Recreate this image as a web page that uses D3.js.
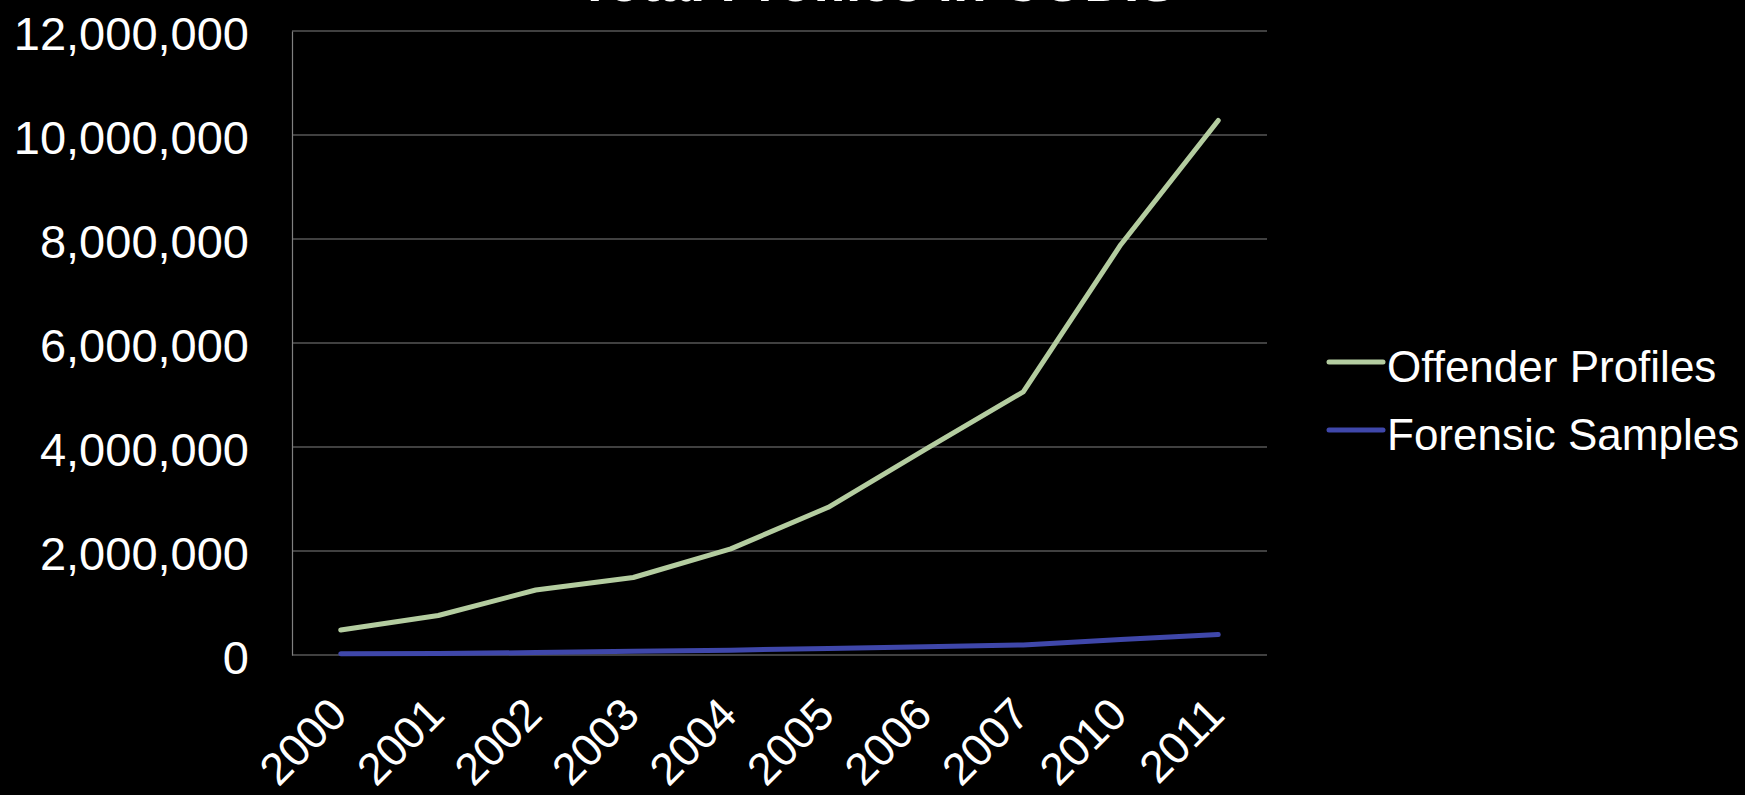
<!DOCTYPE html>
<html lang="en">
<head>
    <meta charset="UTF-8" />
    <title>Total Profiles in CODIS</title>
    <script src="https://d3js.org/d3.v7.min.js"></script>
    <style>
        html, body { margin: 0; padding: 0; background: #000; }
        svg { display: block; font-family: "Liberation Sans", Arial, Helvetica, sans-serif; }
    </style>
</head>
<body>
    <div id="chart"></div>

    <script>
        var w = 1745;
        var h = 795;

        // values
        var years = ["2000", "2001", "2002", "2003", "2004", "2005", "2006", "2007", "2010", "2011"];
        var offenderProfiles = [480000, 760000, 1250000, 1490000, 2040000, 2840000, 3960000, 5060000, 7890000, 10280000];
        var forensicSamples = [22000, 27000, 46000, 70000, 93000, 126000, 160000, 194000, 300000, 392000];
        var yTicks = [0, 2000000, 4000000, 6000000, 8000000, 10000000, 12000000];
        var seriesNames = ["Offender Profiles", "Forensic Samples"];
        var seriesColors = ["#b4cda0", "#3f47aa"];

        var plot = { left: 292, right: 1267, top: 31, bottom: 655 };

        var svg = d3.select("#chart")
            .append("svg")
            .attr("width", w)
            .attr("height", h);

        svg.append("rect")
            .attr("width", w)
            .attr("height", h)
            .attr("fill", "#000");

        // title, almost entirely cut off by the top edge
        svg.append("text")
            .attr("x", 877)
            .attr("y", 1)
            .attr("text-anchor", "middle")
            .attr("fill", "#fff")
            .style("font-size", "55px")
            .style("font-weight", "bold")
            .text("Total Profiles in CODIS");

        var xScale = d3.scalePoint()
            .domain(years)
            .range([plot.left, plot.right])
            .padding(0.5);

        var yScale = d3.scaleLinear()
            .domain([0, 12000000])
            .range([plot.bottom, plot.top]);

        // grid lines
        svg.append("g")
            .selectAll("line")
            .data(yTicks)
            .enter()
            .append("line")
            .attr("x1", plot.left)
            .attr("x2", plot.right)
            .attr("y1", function (d) { return yScale(d); })
            .attr("y2", function (d) { return yScale(d); })
            .attr("stroke", "#808080")
            .attr("stroke-width", 1.2);

        // y axis
        var yAxis = d3.axisLeft(yScale)
            .tickValues(yTicks)
            .tickFormat(d3.format(","))
            .tickSize(0)
            .tickPadding(43);

        var gy = svg.append("g")
            .attr("transform", "translate(" + plot.left + ",0)")
            .call(yAxis);
        gy.select(".domain").attr("stroke", "#808080").attr("stroke-width", 1.2);
        gy.selectAll("text")
            .attr("fill", "#fff")
            .attr("dy", "0.4em")
            .style("font-size", "47px")
            .style("font-family", "inherit");

        // x axis, rotated labels
        var xAxis = d3.axisBottom(xScale).tickSize(0);
        var gx = svg.append("g")
            .attr("transform", "translate(0," + plot.bottom + ")")
            .call(xAxis);
        gx.select(".domain").remove();
        gx.selectAll("text")
            .attr("fill", "#fff")
            .attr("y", 0)
            .attr("dy", 0)
            .attr("text-anchor", "end")
            .attr("transform", "translate(8,62) rotate(-45)")
            .style("font-size", "45px")
            .style("font-family", "inherit");

        // lines
        var line = d3.line()
            .x(function (d, i) { return xScale(years[i]); })
            .y(function (d) { return yScale(d); });

        [offenderProfiles, forensicSamples].forEach(function (values, i) {
            svg.append("path")
                .datum(values)
                .attr("d", line)
                .attr("fill", "none")
                .attr("stroke", seriesColors[i])
                .attr("stroke-width", 5)
                .attr("stroke-linejoin", "round")
                .attr("stroke-linecap", "round");
        });

        // legend
        var legend = svg.append("g")
            .attr("transform", "translate(1329,362)");

        legend.selectAll("line")
            .data(seriesNames)
            .enter()
            .append("line")
            .attr("x1", 0)
            .attr("x2", 54)
            .attr("y1", function (d, i) { return i * 68; })
            .attr("y2", function (d, i) { return i * 68; })
            .attr("stroke", function (d, i) { return seriesColors[i]; })
            .attr("stroke-width", 5)
            .attr("stroke-linecap", "round");

        legend.selectAll("text")
            .data(seriesNames)
            .enter()
            .append("text")
            .attr("x", 58)
            .attr("y", function (d, i) { return i * 68 + 20; })
            .attr("fill", "#fff")
            .style("font-size", "44px")
            .text(function (d) { return d; });
    </script>
</body>
</html>
